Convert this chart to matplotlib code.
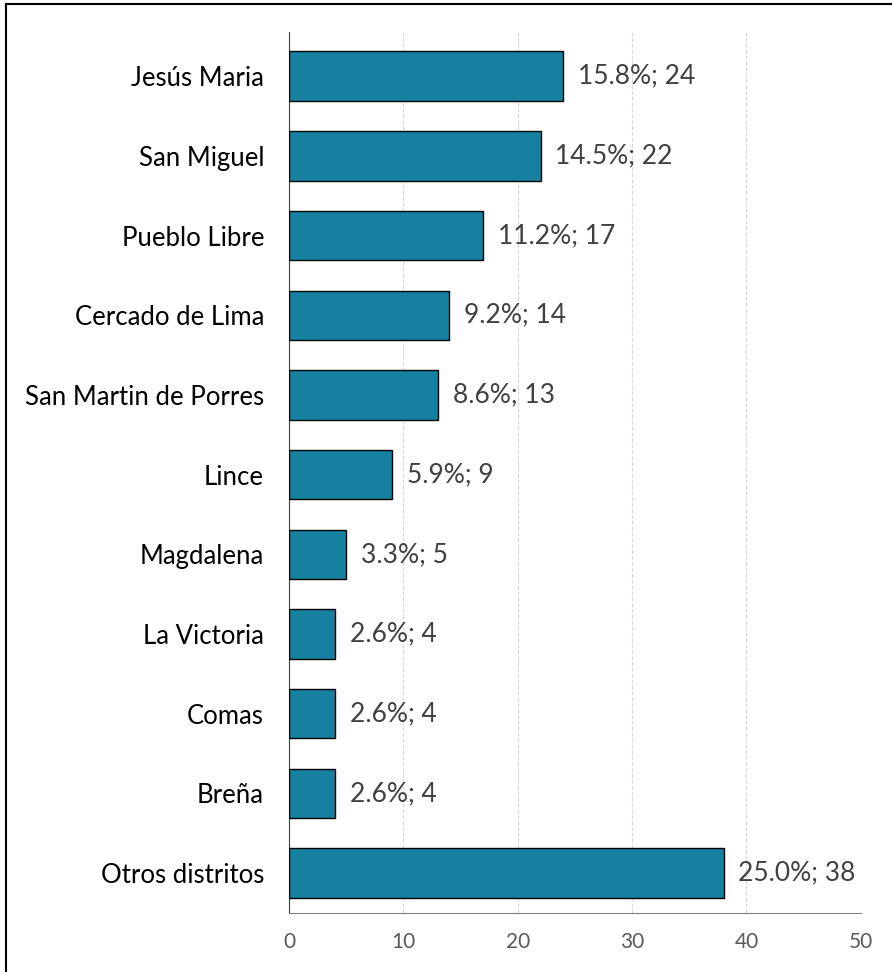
import matplotlib.pyplot as plt
from matplotlib.lines import Line2D

plt.rcParams['font.family'] = ['Lato', 'DejaVu Sans']

distritos = ['Jesús Maria', 'San Miguel', 'Pueblo Libre', 'Cercado de Lima',
             'San Martin de Porres', 'Lince', 'Magdalena', 'La Victoria',
             'Comas', 'Breña', 'Otros distritos']
conteo = [24, 22, 17, 14, 13, 9, 5, 4, 4, 4, 38]
porcentaje = [15.8, 14.5, 11.2, 9.2, 8.6, 5.9, 3.3, 2.6, 2.6, 2.6, 25.0]

fig = plt.figure(figsize=(8.92, 9.72), dpi=100)
ax = fig.add_axes([0.324, 0.0607, 0.641, 0.906])

pos = list(range(len(distritos)))
ax.barh(pos, conteo, height=0.62, color='#1580A0', edgecolor='black', linewidth=1, zorder=3)

for p, c, pc in zip(pos, conteo, porcentaje):
    ax.text(c + 1.3, p, f'{pc:.1f}%; {c}', va='center', ha='left',
            fontsize=19, color='#404040')

ax.set_ylim(10.5, -0.55)
ax.set_xlim(0, 50)
ax.set_yticks(pos)
ax.set_yticklabels(distritos, fontsize=18.5, color='black')
ax.set_xticks([0, 10, 20, 30, 40, 50])
ax.tick_params(axis='x', labelsize=15, colors='#595959', length=0, pad=14)
ax.tick_params(axis='y', length=0, pad=18)

ax.grid(axis='x', linestyle='--', color='#D9D9D9', linewidth=0.8, zorder=0)
for s in ['top', 'right']:
    ax.spines[s].set_visible(False)
ax.spines['left'].set_color('#404040')
ax.spines['bottom'].set_color('#808080')

# borde del recuadro (solo arriba e izquierda, recortado en la imagen original)
fig.add_artist(Line2D([0.0065, 0.0065], [0, 0.996], transform=fig.transFigure,
                      color='black', linewidth=1.5))
fig.add_artist(Line2D([0.0065, 1], [0.996, 0.996], transform=fig.transFigure,
                      color='black', linewidth=1.5))

fig.savefig('out.png', dpi=100)
